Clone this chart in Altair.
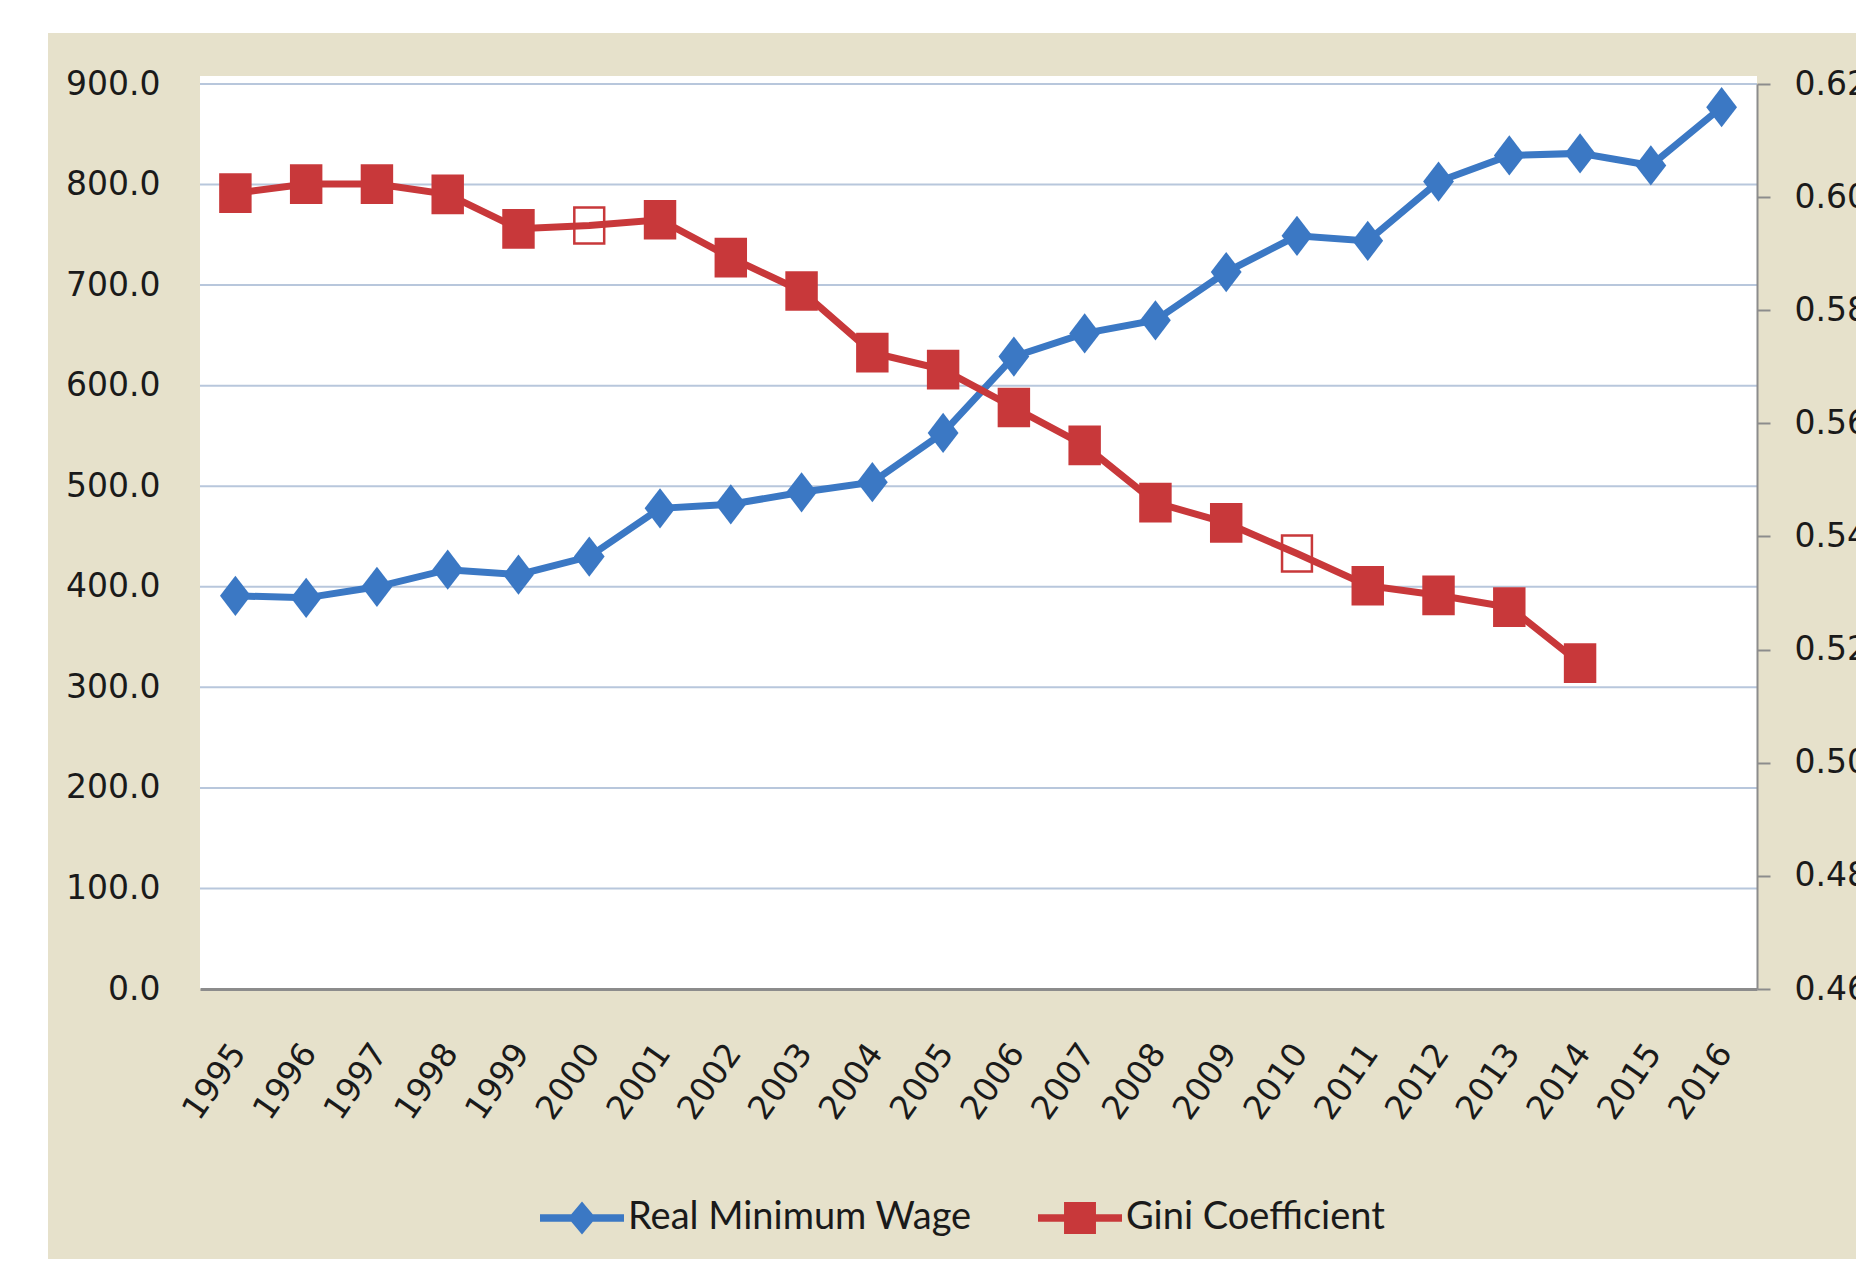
import altair as alt
import pandas as pd

# ---------------- data ----------------
years = [str(y) for y in range(1995, 2017)]
wage = [391, 389, 400, 417, 412, 430, 478, 482, 494, 504, 553,
        629, 652, 665, 713, 749, 744, 803, 829, 831, 819, 877]

gini_years = years[:20]
gini = [0.6007, 0.6023, 0.6023, 0.6005, 0.5944, 0.5950, 0.5960, 0.5893,
        0.5834, 0.5725, 0.5695, 0.5628, 0.5561, 0.5460, 0.5424, 0.5370,
        0.5313, 0.5296, 0.5275, 0.5176]
gini_marker = ["filled"] * 5 + ["hollow"] + ["filled"] * 9 + ["hollow"] + ["filled"] * 4

left_ticks = [0, 100, 200, 300, 400, 500, 600, 700, 800, 900]
grid_values = [100, 200, 300, 400, 500, 600, 700, 800, 900]
right_ticks = [0.46, 0.48, 0.50, 0.52, 0.54, 0.56, 0.58, 0.60, 0.62]

series = ["Real Minimum Wage", "Gini Coefficient"]

# ---------------- styles ----------------
BLUE = "#3b78c4"
RED = "#c8383a"
TAN = "#e6e1cb"
GRID = "#b8c7dc"
AXIS = "#8c8c8c"
TEXT = "#1a1a1a"
NUM_FONT = "DejaVu Sans"
LEG_FONT = "Lato, sans-serif"

W, H = 1557, 905

diamond_path = "M0,-1.15L0.88,0L0,1.15L-0.88,0Z"
square_path = "M-0.9,-1.1H0.9V1.1H-0.9Z"
hollow_path = "M-0.83,-1H0.83V1H-0.83Z"
legend_paths = [
    "M-1,-0.09H1V0.09H-1Z M0,-0.39L0.33,0L0,0.39L-0.33,0Z",
    "M-1,-0.09H1V0.09H-1Z M-0.38,-0.38H0.38V0.38H-0.38Z",
]

wage_df = pd.DataFrame({"year": years, "wage": wage})
gini_df = pd.DataFrame({"year": gini_years, "gini": gini, "marker": gini_marker})
grid_df = pd.DataFrame({"wage": grid_values})
series_df = pd.DataFrame({"series": series})
one = pd.DataFrame({"a": [0]})

x_enc = alt.X(
    "year:O",
    scale=alt.Scale(type="point", padding=0.5, domain=years),
    axis=alt.Axis(
        title=None, labelAngle=-55, labelAlign="right", labelBaseline="middle",
        labelPadding=58, labelOffset=3, ticks=False, tickSize=0,
        domainColor=AXIS, domainWidth=3, labelFont=NUM_FONT, labelFontSize=33,
        labelColor=TEXT, labelOverlap=False, grid=False, zindex=1,
    ),
)

wage_axis = alt.Axis(
    title=None, orient="left", values=left_ticks, format=".1f", domain=False,
    ticks=False, tickSize=0, labelPadding=40, labelFont=NUM_FONT,
    labelFontSize=33, labelColor=TEXT, grid=False, zindex=1,
)
wage_y = alt.Y("wage:Q", scale=alt.Scale(domain=[0, 900], nice=False, zero=False), axis=wage_axis)

gini_axis = alt.Axis(
    title=None, orient="right", values=right_ticks, format=".2f", domain=True,
    domainColor=AXIS, domainWidth=2, ticks=True, tickSize=13, tickColor=AXIS,
    tickWidth=2, labelPadding=24, labelFont=NUM_FONT, labelFontSize=33,
    labelColor=TEXT, grid=False, zindex=1,
)
gini_y = alt.Y("gini:Q", scale=alt.Scale(domain=[0.46, 0.62], nice=False, zero=False), axis=gini_axis)

# ---------------- background panels ----------------
tan_bg = alt.Chart(one).mark_rect(color=TAN).encode(
    x=alt.value(-152), x2=alt.value(W + 120), y=alt.value(-51), y2=alt.value(H + 300)
)
plot_bg = alt.Chart(one).mark_rect(color="white").encode(
    x=alt.value(0), x2=alt.value(W), y=alt.value(-8), y2=alt.value(H)
)

# ---------------- wage (left axis) ----------------
grid = alt.Chart(grid_df).mark_rule(color=GRID, strokeWidth=2).encode(y=wage_y)
wage_line = alt.Chart(wage_df).mark_line(color=BLUE, strokeWidth=7).encode(x=x_enc, y=wage_y)
wage_pts = alt.Chart(wage_df).mark_point(
    shape=diamond_path, size=1225, filled=True, color=BLUE, opacity=1
).encode(x=x_enc, y=wage_y)
wage_layer = alt.layer(grid, wage_line, wage_pts)

# ---------------- gini (right axis) ----------------
gini_line = alt.Chart(gini_df).mark_line(color=RED, strokeWidth=7).encode(x=x_enc, y=gini_y)
gini_pts = alt.Chart(gini_df).transform_filter(alt.datum.marker == "filled").mark_point(
    shape=square_path, size=1300, filled=True, color=RED, opacity=1
).encode(x=x_enc, y=gini_y)
gini_hollow = alt.Chart(gini_df).transform_filter(alt.datum.marker == "hollow").mark_point(
    shape=hollow_path, size=1296, filled=False, color=RED, strokeWidth=2.5, opacity=1
).encode(x=x_enc, y=gini_y)
gini_layer = alt.layer(gini_line, gini_pts, gini_hollow)

# ---------------- legend ----------------
leg = alt.Legend(
    title=None, orient="none", legendX=340, legendY=1092, direction="horizontal",
    symbolSize=7056, symbolStrokeWidth=0, symbolOpacity=1, labelFont=LEG_FONT,
    labelFontSize=38, labelColor=TEXT, labelOffset=4, columnPadding=66,
    padding=0, labelLimit=0,
)
legend_layer = alt.Chart(series_df).mark_point(filled=True, opacity=0).encode(
    color=alt.Color("series:N", scale=alt.Scale(domain=series, range=[BLUE, RED]), legend=leg),
    shape=alt.Shape("series:N", scale=alt.Scale(domain=series, range=legend_paths), legend=leg),
)

chart = alt.layer(tan_bg, plot_bg, wage_layer, gini_layer, legend_layer).resolve_scale(
    y="independent"
).properties(
    width=W, height=H,
    padding={"left": 192, "top": 76, "right": 99, "bottom": 270},
    autosize=alt.AutoSizeParams(type="none"),
    background="white",
).configure_view(strokeWidth=0)

chart.save("out.html", embed_options={"renderer": "svg", "actions": False})
